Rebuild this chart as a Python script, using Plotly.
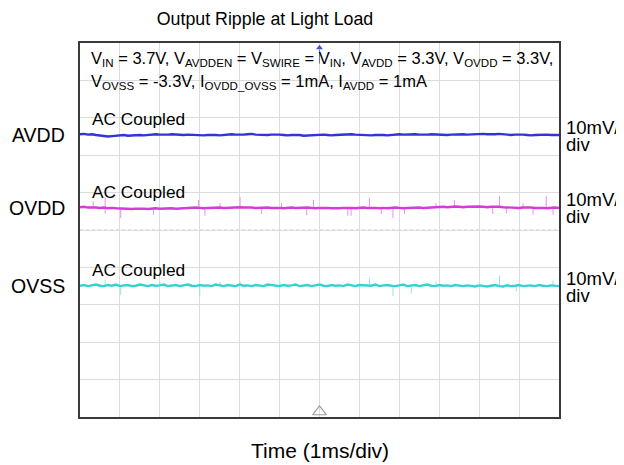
import plotly.graph_objects as go

# ---------------- data ----------------
channels = ["AVDD", "OVDD", "OVSS"]
channel_offsets_div = [7.54, 5.59, 3.50]      # screen position of each AC-coupled trace (divisions)
volts_per_div_mV = 10.0                        # 10mV/div on every channel
time_span_ms = 12.0                            # 12 divisions x 1 ms/div
trigger_time_ms = 6.0

# ripple (mV), one sample every 0.1 ms
avdd_ripple_mV = [0.2, 0.3, 0.1, 0.2, 0.0, -0.1, -0.3, -0.4, -0.3, -0.2,
                  -0.1, 0.0, -0.2, -0.1, 0.1, 0.0, -0.1, 0.0, 0.1, 0.2,
                  0.1, 0.0, 0.1, 0.2, 0.1, -0.1, 0.0, 0.1, 0.0, -0.1,
                  -0.2, -0.1, 0.0, 0.1, 0.0, -0.1, 0.0, 0.1, 0.2, 0.1,
                  0.0, 0.1, 0.2, 0.3, 0.1, 0.0, -0.1, 0.0, 0.1, 0.2,
                  0.1, 0.0, -0.1, 0.0, 0.1, 0.0, -0.2, -0.1, 0.0, 0.1,
                  0.2, 0.1, 0.0, -0.1, 0.0, 0.1, 0.2, 0.3, 0.2, 0.1,
                  0.0, -0.1, -0.2, -0.1, 0.0, 0.1, 0.0, -0.1, 0.0, 0.1,
                  0.2, 0.1, 0.2, 0.3, 0.2, 0.1, 0.0, 0.1, 0.2, 0.1,
                  0.0, -0.1, 0.0, 0.1, 0.2, 0.3, 0.2, 0.1, 0.2, 0.3,
                  0.4, 0.3, 0.2, 0.1, 0.2, 0.3, 0.2, 0.1, 0.0, 0.1,
                  0.2, 0.1, 0.0, -0.1, 0.0, 0.1, 0.2, 0.1, 0.0, 0.1, 0.0]

ovdd_ripple_mV = [0.2, 0.3, 0.1, 0.2, 0.1, 0.0, 0.1, -0.1, 0.0, -0.1,
                  -0.2, -0.1, -0.2, -0.3, -0.2, -0.1, -0.2, -0.3, -0.2, -0.1,
                  -0.2, -0.1, 0.0, -0.1, -0.2, -0.1, 0.0, -0.1, 0.0, 0.1,
                  0.0, -0.1, 0.0, 0.1, 0.2, 0.1, 0.0, 0.1, 0.0, 0.1,
                  0.2, 0.1, 0.2, 0.1, 0.0, 0.1, 0.2, 0.1, 0.0, 0.1,
                  0.0, -0.1, 0.0, 0.1, 0.0, 0.1, 0.2, 0.1, 0.0, -0.1,
                  0.0, 0.1, 0.0, -0.1, -0.2, -0.1, 0.0, 0.1, 0.0, -0.1,
                  0.0, 0.1, 0.0, 0.1, 0.0, -0.1, 0.0, -0.1, 0.0, 0.1,
                  0.0, -0.1, 0.0, 0.1, 0.2, 0.1, 0.0, 0.1, 0.2, 0.1,
                  0.2, 0.3, 0.2, 0.3, 0.4, 0.3, 0.2, 0.3, 0.4, 0.3,
                  0.4, 0.3, 0.2, 0.3, 0.4, 0.3, 0.2, 0.1, 0.2, 0.1,
                  0.0, 0.1, 0.2, 0.1, 0.0, 0.1, 0.0, -0.1, 0.0, 0.1, 0.0]

ovss_ripple_mV = [0.1, 0.3, 0.0, 0.2, 0.4, 0.1, 0.0, 0.3, 0.1, 0.4,
                  0.0, 0.2, 0.3, 0.0, 0.1, 0.4, 0.1, 0.0, 0.3, 0.1,
                  0.2, 0.4, 0.0, 0.1, 0.3, 0.0, 0.2, 0.4, 0.1, 0.0,
                  0.3, 0.1, 0.2, 0.0, 0.4, 0.1, 0.0, 0.3, 0.2, 0.0,
                  0.4, 0.1, 0.2, 0.0, 0.3, 0.1, 0.0, 0.4, 0.2, 0.1,
                  0.0, 0.3, 0.1, 0.2, 0.4, 0.0, 0.1, 0.3, 0.0, 0.2,
                  0.4, 0.1, 0.0, 0.3, 0.1, 0.2, 0.0, 0.4, 0.1, 0.0,
                  0.3, 0.2, 0.0, 0.1, 0.4, 0.0, 0.2, 0.3, 0.1, 0.0,
                  0.2, 0.4, 0.0, 0.1, 0.3, 0.0, 0.2, 0.4, 0.1, 0.0,
                  0.3, 0.1, 0.2, 0.0, 0.3, 0.1, 0.0, 0.2, 0.1, -0.1,
                  0.2, 0.0, -0.1, 0.1, 0.3, 0.0, -0.1, 0.2, 0.0, 0.1,
                  0.3, 0.0, 0.1, 0.2, 0.0, 0.3, 0.1, 0.0, 0.2, 0.1, 0.0]

# switching spikes (time in ms, peak in mV)
ovdd_spike_t_ms = [0.33, 0.63, 0.63, 1.02, 1.84, 2.97, 3.13, 3.51, 4.01, 4.55,
                   5.05, 5.68, 5.85, 6.71, 6.79, 7.25, 7.55, 7.84, 8.13, 8.92,
                   9.38, 10.34, 10.51, 10.68, 11.10, 11.35, 11.68, 11.85]
ovdd_spike_mV = [1.8, 2.9, -1.5, -2.7, -1.8, 2.1, -2.1, 1.3, 2.9, -1.6,
                 1.3, -2.0, 2.1, -2.1, -2.1, 2.7, -1.6, -2.7, -1.6, 1.3,
                 2.1, -1.6, 3.2, -1.5, 1.3, -1.8, 3.2, -1.8]
ovss_spike_t_ms = [0.63, 1.02, 2.0, 3.0, 3.51, 4.01, 5.01, 7.25, 7.84, 8.30,
                   8.92, 10.51, 10.93, 11.85]
ovss_spike_mV = [1.6, -2.4, 1.3, -2.4, 1.2, 1.3, 1.1, 2.1, -2.7, -1.9,
                 1.3, 2.9, -1.4, 1.5]

title_text = "Output Ripple at Light Load"
x_title_text = "Time (1ms/div)"
coupling_text = "AC Coupled"
scale_text = ["10mV/", "div"]
cond_line1 = ("V<sub>IN</sub> = 3.7V, V<sub>AVDDEN</sub> = V<sub>SWIRE</sub> = V<sub>IN</sub>, "
              "V<sub>AVDD</sub> = 3.3V, V<sub>OVDD</sub> = 3.3V,")
cond_line2 = "V<sub>OVSS</sub> = -3.3V, I<sub>OVDD_OVSS</sub> = 1mA, I<sub>AVDD</sub> = 1mA"

# ---------------- styling ----------------
trace_colors = ["#2f35d6", "#d83ad8", "#35d2d2"]
spike_colors = ["#2f35d6", "#ee8cee", "#8ee6e6"]
FONT = "Arial, Liberation Sans, sans-serif"
PAGE_OFFSET = 8   # the page body margin shifts the figure by 8px

fig = go.Figure()

ripples = [avdd_ripple_mV, ovdd_ripple_mV, ovss_ripple_mV]
spikes = [None, (ovdd_spike_t_ms, ovdd_spike_mV), (ovss_spike_t_ms, ovss_spike_mV)]

for i, name in enumerate(channels):
    off = channel_offsets_div[i]
    sp = spikes[i]
    if sp is not None:
        xs, ys = [], []
        for t, v in zip(sp[0], sp[1]):
            xs += [t, t, None]
            ys += [off, off + v / volts_per_div_mV, None]
        fig.add_trace(go.Scatter(x=xs, y=ys, mode="lines",
                                 line=dict(color=spike_colors[i], width=1),
                                 hoverinfo="skip", showlegend=False))
    r = ripples[i]
    n = len(r)
    t = [k * time_span_ms / (n - 1) for k in range(n)]
    fig.add_trace(go.Scatter(x=t, y=[off + v / volts_per_div_mV for v in r], mode="lines",
                             line=dict(color=trace_colors[i], width=2.4),
                             name=name, showlegend=False))

# trigger markers
fig.add_trace(go.Scatter(x=[trigger_time_ms, trigger_time_ms], y=[9.82, 9.45], mode="lines",
                         line=dict(color="#5a78e0", width=1), showlegend=False, hoverinfo="skip"))
fig.add_trace(go.Scatter(x=[trigger_time_ms], y=[9.87], mode="markers",
                         marker=dict(symbol="triangle-up", size=6, color="#3c5ad8"),
                         showlegend=False, hoverinfo="skip", cliponaxis=False))
fig.add_trace(go.Scatter(x=[trigger_time_ms], y=[0.14], mode="markers",
                         marker=dict(symbol="triangle-up-open", size=12, color="#a0a0a0",
                                     line=dict(width=1.2)),
                         showlegend=False, hoverinfo="skip", cliponaxis=False))

# centre cross-hair (dotted)
fig.add_shape(type="line", xref="x", yref="y", x0=trigger_time_ms, x1=trigger_time_ms, y0=0, y1=10,
              line=dict(color="#b8b8b8", width=1, dash="dot"), layer="below")
fig.add_shape(type="line", xref="x", yref="y", x0=0, x1=time_span_ms, y0=5, y1=5,
              line=dict(color="#c4c4c4", width=1, dash="dot"), layer="below")

annotations = []
for i, name in enumerate(channels):
    off = channel_offsets_div[i]
    annotations.append(dict(x=0, xref="paper", y=off, yref="y", text=name, showarrow=False,
                            xanchor="right", yanchor="middle", xshift=-13,
                            font=dict(family=FONT, size=19.5, color="black")))
    annotations.append(dict(x=1, xref="paper", y=off, yref="y", text=scale_text[0], showarrow=False,
                            xanchor="left", yanchor="middle", xshift=5, yshift=8,
                            font=dict(family=FONT, size=18.5, color="black")))
    annotations.append(dict(x=1, xref="paper", y=off, yref="y", text=scale_text[1], showarrow=False,
                            xanchor="left", yanchor="middle", xshift=5, yshift=-9,
                            font=dict(family=FONT, size=18.5, color="black")))
    annotations.append(dict(x=0, xref="paper", y=off, yref="y", text=coupling_text, showarrow=False,
                            xanchor="left", yanchor="middle", xshift=10, yshift=16,
                            font=dict(family=FONT, size=17.3, color="black")))

annotations.append(dict(x=0, xref="paper", y=9.56, yref="y", text=cond_line1, showarrow=False,
                        xanchor="left", yanchor="middle", xshift=9,
                        font=dict(family=FONT, size=16.5, color="black")))
annotations.append(dict(x=0, xref="paper", y=8.96, yref="y", text=cond_line2, showarrow=False,
                        xanchor="left", yanchor="middle", xshift=9,
                        font=dict(family=FONT, size=16.5, color="black")))
annotations.append(dict(x=0.5, xref="paper", y=0, yref="paper", text=x_title_text, showarrow=False,
                        xanchor="center", yanchor="middle", yshift=-33,
                        font=dict(family=FONT, size=21, color="black")))

W, H = 624 - PAGE_OFFSET, 465 - PAGE_OFFSET
fig.update_layout(
    width=W, height=H,
    margin=dict(l=80 - PAGE_OFFSET, r=65, t=43 - PAGE_OFFSET, b=48),
    paper_bgcolor="white", plot_bgcolor="white",
    title=dict(text=title_text, x=(265 - PAGE_OFFSET) / W, xref="container", xanchor="center",
               y=1 - (19 - PAGE_OFFSET) / H, yref="container", yanchor="middle",
               font=dict(family=FONT, size=17.8, color="black")),
    xaxis=dict(range=[0, time_span_ms], dtick=1, tick0=0, showticklabels=False, ticks="",
               showgrid=True, gridcolor="#dcdcdc", gridwidth=1, zeroline=False,
               showline=True, mirror=True, linecolor="#3a3a3a", linewidth=1.6, fixedrange=True),
    yaxis=dict(range=[0, 10], dtick=1, tick0=0, showticklabels=False, ticks="",
               showgrid=True, gridcolor="#dcdcdc", gridwidth=1, zeroline=False,
               showline=True, mirror=True, linecolor="#3a3a3a", linewidth=1.6, fixedrange=True),
    annotations=annotations,
    showlegend=False,
)

fig.write_html("out.html")
